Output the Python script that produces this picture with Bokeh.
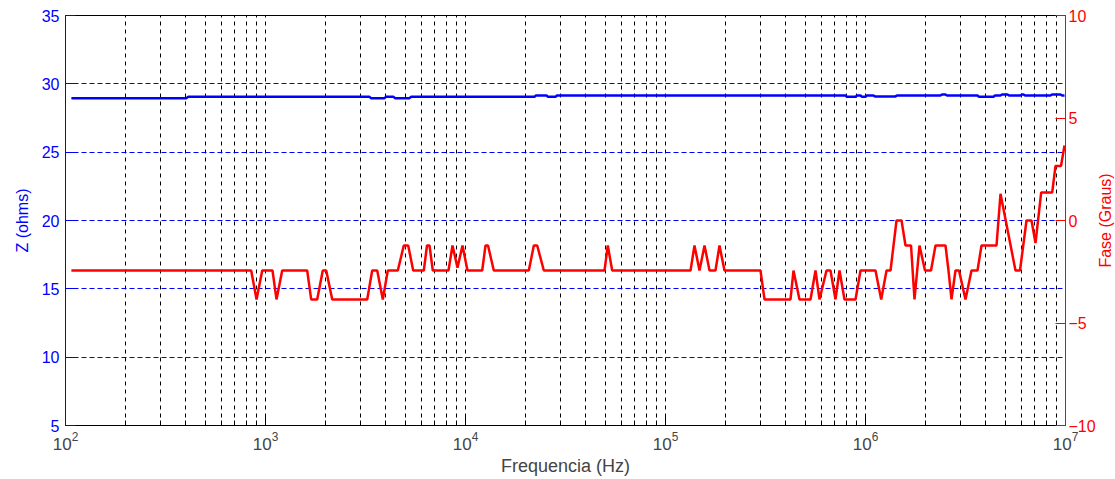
import math
from bokeh.plotting import figure
from bokeh.models import Range1d, LinearAxis, FixedTicker, Label
from bokeh.embed import file_html
from bokeh.resources import INLINE

# Impedance magnitude |Z| (ohms) versus frequency (Hz)
freq_z = [107, 402.7, 409.9, 3311, 3369, 3936, 4004, 4365, 4442, 5248, 5340,
          22130, 22510, 25410, 25850, 28180, 28680, 794300, 808300, 891300,
          906900, 944100, 960600, 1000000, 1017000, 1096000, 1115000, 1413000,
          1437000, 2371000, 2413000, 2512000, 2556000, 3631000, 3694000,
          4365000, 4442000, 4732000, 4815000, 5129000, 5219000, 5957000,
          6061000, 6166000, 6274000, 8414000, 8561000, 9441000, 9605000, 9886000]
z_ohms = [28.95, 28.95, 29.05, 29.05, 28.95, 28.95, 29.05, 29.05, 28.95, 28.95, 29.05,
          29.05, 29.15, 29.15, 29.05, 29.05, 29.15, 29.15, 29.05, 29.05,
          29.15, 29.15, 29.05, 29.05, 29.15, 29.15, 29.08, 29.08,
          29.15, 29.15, 29.22, 29.22, 29.15, 29.15, 29.05,
          29.05, 29.15, 29.15, 29.22, 29.22, 29.15, 29.15,
          29.22, 29.22, 29.15, 29.15, 29.22, 29.22, 29.15, 29.15]

# Phase (degrees) versus frequency (Hz)
freq_ph = [107, 848, 902, 963, 1084, 1135, 1212, 1616, 1692, 1813,
           1934, 2012, 2156, 3225, 3416, 3619, 3859, 4088, 4587, 4915,
           5170, 5476, 6187, 6420, 6607, 6863, 8222, 8610, 9120, 9661,
           10230, 12120, 12590, 12960, 13850, 20730, 21960, 22830, 24640, 49550,
           51450, 54140, 133400, 139600, 147900, 156700, 166000, 177800, 186200, 197200,
           298500, 312600, 421700, 436500, 467700, 530900, 562300, 588800, 638300, 668300,
           707900, 741300, 785200, 891300, 944100, 1122000, 1198000, 1274000, 1334000, 1429000,
           1514000, 1585000, 1689000, 1758000, 1862000, 1984000, 2126000, 2239000, 2512000, 2600000,
           2692000, 2818000, 2935000, 3162000, 3388000, 3631000, 3802000, 4519000, 4732000, 5623000,
           5922000, 6383000, 6761000, 7079000, 7559000, 8582000, 8913000, 9495000, 9886000]
phase_deg = [-2.44, -2.44, -3.85, -2.44, -2.44, -3.85, -2.44, -2.44, -3.85, -3.85,
             -2.44, -2.44, -3.85, -3.85, -2.44, -2.44, -3.85, -2.44, -2.44, -1.22,
             -1.22, -2.44, -2.44, -1.22, -1.22, -2.44, -2.44, -1.22, -2.30, -1.22,
             -2.44, -2.44, -1.22, -1.22, -2.44, -2.44, -1.22, -1.22, -2.44, -2.44,
             -1.22, -2.44, -2.44, -1.22, -2.44, -1.22, -2.44, -2.44, -1.22, -2.44,
             -2.44, -3.85, -3.85, -2.44, -3.85, -3.85, -2.44, -3.85, -2.44, -2.44,
             -3.85, -2.44, -3.85, -3.85, -2.44, -2.44, -3.85, -2.44, -2.44, 0.0,
             0.0, -1.22, -1.22, -3.85, -1.22, -2.44, -2.44, -1.22, -1.22, -2.44,
             -3.85, -2.44, -2.44, -3.85, -2.44, -2.44, -1.22, -1.22, 1.30, -2.44,
             -2.44, 0.0, 0.0, -1.10, 1.37, 1.37, 2.66, 2.66, 3.66]

decades = [1e2, 1e3, 1e4, 1e5, 1e6, 1e7]
z_ticks = [5, 10, 15, 20, 25, 30, 35]
phase_ticks = [-10, -5, 0, 5, 10]

BLUE = "#0000ff"
RED = "#ff0000"
FONT = "Liberation Sans"

minor = [d * m for d in decades[:-1] for m in range(2, 10)]
x_ticker = FixedTicker(ticks=decades, minor_ticks=minor)

p = figure(width=1115, height=479, x_axis_type="log",
           x_range=Range1d(1e2, 1e7), y_range=Range1d(5, 35),
           output_backend="svg", toolbar_location=None,
           min_border_left=65, min_border_right=50,
           min_border_top=15, min_border_bottom=54)
p.extra_y_ranges = {"fase": Range1d(-10, 10)}
p.background_fill_color = "white"
p.border_fill_color = "white"
p.outline_line_color = "black"
p.outline_line_width = 1

# x axis
xa = p.xaxis[0]
xa.ticker = x_ticker
xa.axis_label = "Frequencia (Hz)"
xa.axis_label_text_font = FONT
xa.axis_label_text_font_size = "18px"
xa.axis_label_text_font_style = "normal"
xa.axis_label_standoff = 3
xa.major_label_text_font = FONT
xa.major_label_text_font_size = "17px"
xa.major_label_standoff = 6
xa.major_tick_in = 10
xa.major_tick_out = 0
xa.minor_tick_in = 5
xa.minor_tick_out = 0
xa.axis_line_color = "black"

# left axis: impedance
ya = p.yaxis[0]
ya.ticker = FixedTicker(ticks=z_ticks)
ya.axis_label = "Z (ohms)"
ya.axis_label_text_font = FONT
ya.axis_label_text_font_size = "16px"
ya.axis_label_text_font_style = "normal"
ya.axis_label_text_color = BLUE
ya.axis_label_standoff = 8
ya.major_label_text_font = FONT
ya.major_label_text_font_size = "16px"
ya.major_label_text_color = BLUE
ya.major_label_standoff = 6
ya.axis_line_color = BLUE
ya.major_tick_line_color = BLUE
ya.major_tick_in = 10
ya.major_tick_out = 0
ya.minor_tick_line_color = None

# right axis: phase
ra = LinearAxis(y_range_name="fase", ticker=FixedTicker(ticks=phase_ticks))
ra.major_label_text_font = FONT
ra.major_label_text_font_size = "16px"
ra.major_label_text_color = RED
ra.major_label_standoff = 3
ra.axis_line_color = RED
ra.major_tick_line_color = RED
ra.major_tick_in = 10
ra.major_tick_out = 0
ra.minor_tick_line_color = None
p.add_layout(ra, "right")

# title of the phase axis, reading bottom to top, in its own side panel
# to the right of the phase tick labels
p.add_layout(Label(x=7, y=205, x_units="screen", y_units="screen",
                   text="Fase (Graus)", angle=math.pi / 2,
                   text_align="center", text_baseline="middle",
                   text_font=FONT, text_font_size="16px", text_color=RED),
             "right")

# grids: blue dashed horizontals, black dashed verticals at every decade step
p.ygrid.grid_line_color = BLUE
p.ygrid.grid_line_dash = "5 3"
p.ygrid.grid_line_width = 1
p.xgrid.grid_line_color = "black"
p.xgrid.grid_line_dash = "4 4"
p.xgrid.grid_line_width = 1
p.xgrid.minor_grid_line_color = "black"
p.xgrid.minor_grid_line_dash = "4 4"
p.xgrid.minor_grid_line_width = 1

p.line(freq_z, z_ohms, line_color=BLUE, line_width=2.5)
p.line(freq_ph, phase_deg, line_color=RED, line_width=2.5, y_range_name="fase")

open("out.html", "w").write(file_html(p, INLINE))
